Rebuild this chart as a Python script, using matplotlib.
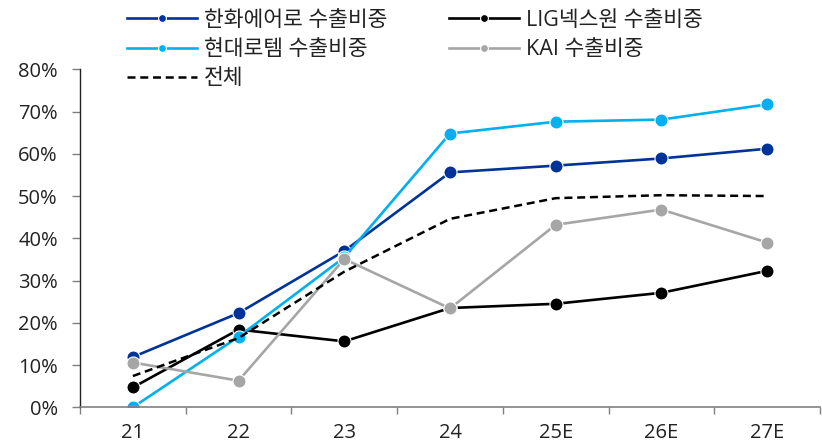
import matplotlib
matplotlib.use("Agg")
import matplotlib.pyplot as plt
from matplotlib.ticker import FuncFormatter, FixedLocator

plt.rcParams['font.family'] = ['Open Sans', 'Noto Sans CJK KR', 'DejaVu Sans']

categories = ['21', '22', '23', '24', '25E', '26E', '27E']
hanwha = [11.9, 22.3, 37.0, 55.6, 57.2, 58.9, 61.2]
lig = [4.7, 18.4, 15.6, 23.5, 24.5, 27.1, 32.3]
rotem = [0.0, 16.7, 35.5, 64.8, 67.6, 68.1, 71.7]
kai = [10.6, 6.3, 35.1, 23.4, 43.2, 46.8, 39.0]
total = [7.4, 16.4, 32.1, 44.6, 49.5, 50.2, 50.0]

labels = ['한화에어로 수출비중', 'LIG넥스원 수출비중', '현대로템 수출비중', 'KAI 수출비중', '전체']

fig = plt.figure(figsize=(8.22, 4.45), dpi=100)
ax = fig.add_axes([80/822, 1-407.3/445, 740/822, (407.3-69.3)/445])

x = list(range(len(categories)))
lw = 1.9
ms = 9.4
h1, = ax.plot(x, hanwha, color='#003399', lw=lw, marker='o', ms=ms, mec='white', mew=0.8, label=labels[0])
h2, = ax.plot(x, lig, color='#000000', lw=lw, marker='o', ms=ms, mec='white', mew=0.8, label=labels[1])
h3, = ax.plot(x, rotem, color='#00B0F0', lw=lw, marker='o', ms=ms, mec='white', mew=0.8, label=labels[2])
h4, = ax.plot(x, kai, color='#A6A6A6', lw=lw, marker='o', ms=ms, mec='white', mew=0.8, label=labels[3])
h5, = ax.plot(x, total, color='#000000', lw=1.8, ls=(0, (3.2, 1.9)), label=labels[4])

ax.set_xlim(-0.5, len(categories) - 0.5)
ax.set_ylim(0, 80)
ax.set_yticks(range(0, 81, 10))
ax.yaxis.set_major_formatter(FuncFormatter(lambda v, p: f'{int(v)}%'))
ax.set_xticks(x)
ax.set_xticklabels(categories)
ax.xaxis.set_minor_locator(FixedLocator([i - 0.5 for i in range(len(categories) + 1)]))
ax.tick_params(axis='x', which='major', length=0, pad=11, labelsize=14.5, colors='#222222')
ax.tick_params(axis='x', which='minor', length=5, width=1, color='#808080', direction='out')
ax.tick_params(axis='y', length=6, width=1, color='#808080', labelsize=14.5, labelcolor='#222222', pad=10)

for s in ['top', 'right']:
    ax.spines[s].set_visible(False)
ax.spines['left'].set_color('#222222')
ax.spines['bottom'].set_color('#808080')
ax.spines['left'].set_linewidth(1)
ax.spines['bottom'].set_linewidth(1.2)

common = dict(loc='upper left', frameon=False, handlelength=3.25,
              handletextpad=0.33, labelspacing=0.38, markerscale=0.6, borderpad=0,
              borderaxespad=0, prop={'size': 15.5})
leg1 = fig.legend([h1, h3, h5], [labels[0], labels[2], labels[4]],
                  bbox_to_anchor=(127/822, 1 - 10/445), **common)
for t in leg1.get_texts():
    t.set_color('#222222')
leg2 = fig.legend([h2, h4], [labels[1], labels[3]],
                  bbox_to_anchor=(449/822, 1 - 10/445), **common)
for t in leg2.get_texts():
    t.set_color('#222222')

fig.savefig('out.png', dpi=100)
